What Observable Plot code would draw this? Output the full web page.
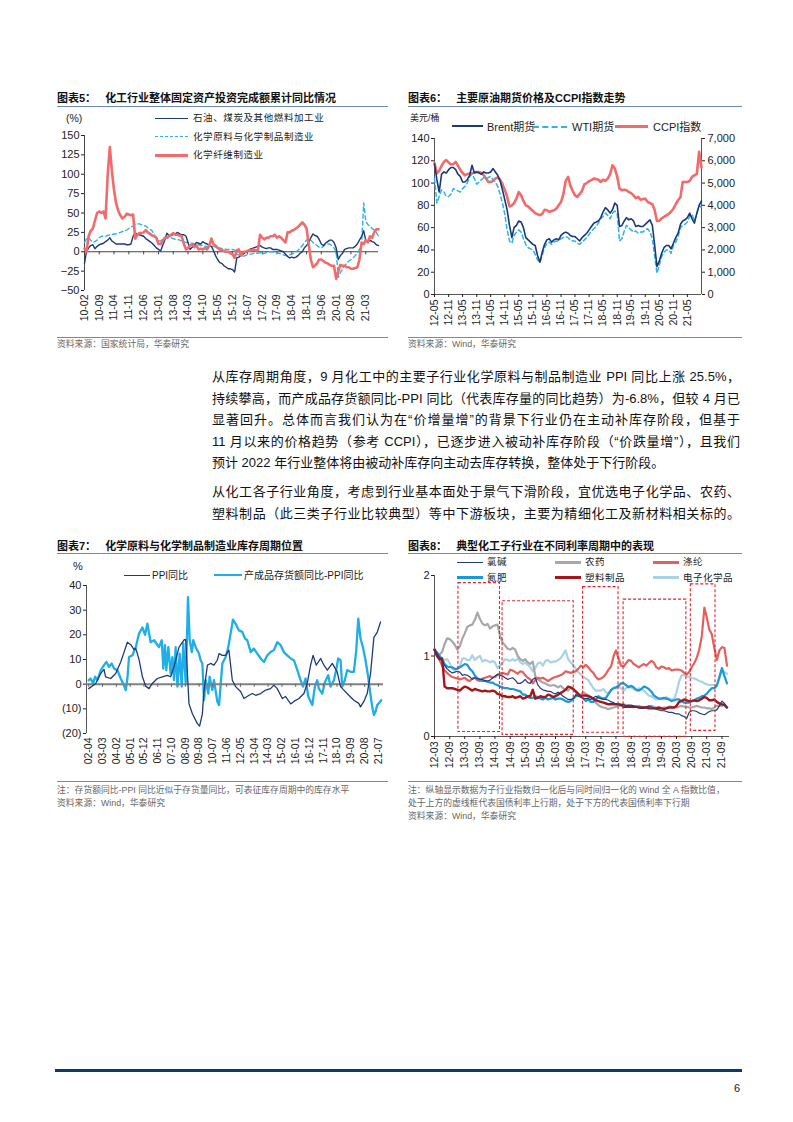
<!DOCTYPE html>
<html><head><meta charset="utf-8">
<script src="https://cdn.jsdelivr.net/npm/d3@7"></script>
<script src="https://cdn.jsdelivr.net/npm/@observablehq/plot@0.6"></script>
<style>
body{margin:0;background:#fff;}
#page{position:relative;width:793px;height:1122px;background:#fff;font-family:"Liberation Sans","Noto Sans CJK SC",sans-serif;color:#222;overflow:hidden}
.abs{position:absolute;white-space:nowrap;line-height:14px}
.title{font-size:11px;font-weight:bold;color:#111}
.hr{position:absolute;height:0;border-top:1px solid #6b8bb8}
.src{font-size:8.8px;color:#666;line-height:13px}
.leg{font-size:9.5px;color:#222}
.ln{position:absolute;height:0}
.para{position:absolute;left:212px;width:528px;font-size:13px;line-height:18px;text-align:justify;text-align-last:justify;color:#111}
.para.last{text-align-last:left}
</style></head>
<body><div id="page"></div>
<script>
// ---------- 图表5 data (monthly, 2010-02 .. 2021-09) ----------
const start5 = "10-02", end5 = "21-09";
const ticks5 = ["10-02","10-09","11-04","11-11","12-06","13-01","13-08","14-03","14-10","15-05","15-12","16-07","17-02","17-09","18-04","18-11","19-06","20-01","20-08","21-03"];
const petro5 = [-15,0,5,8,9,4,7,9,10,11,13,
 15,18,14,12,10,10,10,10,10,9,9,10,
 20,25,22,22,21,20,17,15,13,11,8,5,
 3,1,8,15,24,21,21,22,23,25,23,22,
 22,20,12,3,6,8,12,11,10,13,11,10,
 8,7,2,-5,-10,-14,-15,-18,-20,-22,-22,-23,
 -26,-8,-7,-5,-3,-1,0,3,4,5,6,7,
 8,6,5,4,5,5,3,3,3,2,1,0,
 -3,-6,-8,-7,-8,-7,-5,-2,0,5,8,12,
 18,23,21,20,16,10,8,11,13,15,15,12,
 5,-10,-5,-2,3,4,5,5,5,7,10,15,
 20,27,15,12,15,13,12,9,8];
const chem5 = [12,17,18,15,12,13,15,18,20,20,20,
 21,22,22,23,23,24,25,26,27,28,30,32,
 33,35,36,36,35,34,33,31,29,27,22,18,
 14,14,16,18,18,18,18,17,16,16,15,14,
 13,12,12,11,11,10,10,9,8,8,7,7,
 6,7,7,6,5,5,4,4,3,3,3,3,
 2,-3,-4,-5,-6,-5,-4,-3,-3,-2,-2,-2,
 -1,-3,-2,-1,0,0,0,-1,-2,-2,-3,-4,
 -5,-5,-4,-3,-2,0,2,5,8,12,15,17,
 15,12,10,8,6,5,7,9,10,10,8,5,
 0,-33,-27,-22,-18,-15,-12,-10,-8,-5,-2,3,
 10,63,40,35,33,30,28,25,20];
const fiber5 = [4,0,20,27,30,40,50,52,50,52,43,
 100,135,105,80,63,53,47,43,45,49,48,47,
 48,17,22,24,24,25,28,25,23,21,20,18,
 10,10,14,18,18,20,22,24,22,22,21,20,
 10,3,5,8,10,6,8,3,4,3,5,3,
 8,17,10,8,5,3,2,1,0,0,-2,-3,
 -8,2,3,-5,0,0,1,2,2,3,2,2,
 22,18,16,18,18,20,20,22,18,20,18,15,
 12,25,25,27,28,30,32,35,38,35,30,10,
 -10,-20,-18,-15,-10,-10,-12,-14,-15,-17,-18,-18,
 -35,-25,-17,-18,-18,-20,-20,-22,-22,-21,-20,-10,
 12,10,15,12,20,18,25,29,29];

// ---------- 图表6 data (monthly, 2012-05 .. 2021-11) ----------
const start6 = "12-05", end6 = "21-11";
const ticks6 = ["12-05","12-11","13-05","13-11","14-05","14-11","15-05","15-11","16-05","16-11","17-05","17-11","18-05","18-11","19-05","19-11","20-05","20-11","21-05"];
const brent6 = [117,103,92,108,110,109,112,114,
 114,112,108,106,101,101,103,107,116,109,110,109,
 108,110,109,109,110,113,110,107,102,94,85,76,
 62,51,60,62,66,65,60,51,49,47,45,44,
 35,29,38,45,49,50,47,49,50,49,53,55,
 56,55,53,52,52,50,48,51,53,55,58,61,
 64,65,66,69,74,78,76,73,76,82,80,61,
 62,66,69,67,68,66,61,62,61,61,63,65,
 67,62,45,25,30,37,42,44,44,41,46,51,
 55,63,66,67,69,73,68,64,73,80,84];
const wti6 = [104,82,88,94,92,88,88,90,
 95,94,93,92,95,97,100,106,108,104,99,101,
 103,105,104,105,106,103,101,97,90,82,72,58,
 48,46,53,56,58,56,50,45,42,41,40,36,
 31,29,35,42,46,47,45,47,48,48,50,51,
 52,51,49,48,48,46,45,47,49,51,54,57,
 59,61,64,68,70,73,71,68,73,75,73,48,
 50,57,62,60,58,56,57,55,56,56,58,59,
 56,50,35,19,26,34,38,40,40,37,44,47,
 52,60,62,63,65,70,72,66,72,80,78];
const ccpi6 = [5900,5430,5550,5780,5950,6030,5920,5830,
 5850,5950,5780,5600,5450,5350,5400,5430,5430,5480,5500,5500,
 5450,5350,5200,5050,5050,5100,5200,5260,5150,4950,4700,4400,
 3950,4000,4100,4300,4600,4450,4200,4000,3950,3850,3750,3650,
 3600,3560,3620,3800,3780,3700,3750,3780,3850,4000,4150,4500,
 5100,5280,4900,4650,4450,4380,4500,4650,4950,5000,5080,5130,
 5200,5180,5150,5050,5150,5100,5200,5400,5800,5650,5300,4750,
 4680,4700,4680,4600,4550,4450,4320,4380,4250,4280,4300,4160,
 4100,4050,3800,3300,3300,3420,3480,3550,3620,3710,3850,4050,
 4230,4380,5050,5050,5050,5100,5280,5350,5400,6400,5700];
const oilMax6 = 140, ccpiMax6 = 7000;

// ---------- 图表7 data ----------
const ticks7 = ["02-04","03-03","04-02","05-01","05-12","06-11","07-10","08-09","09-08","10-07","11-06","12-05","13-04","14-03","15-02","16-01","16-12","17-11","18-10","19-09","20-08","21-07"];
const ppiDates7 = ["2002-04-01","2002-09-18","2003-01-17","2003-04-07","2003-05-16","2003-09-16","2004-01-16","2004-05-16","2004-08-06","2004-10-25","2005-01-16","2005-04-04","2005-05-16","2005-08-04","2005-10-25","2006-01-13","2006-04-04","2006-06-22","2006-10-22","2007-02-22","2007-06-22","2007-09-10","2007-12-01","2008-04-01","2008-08-01","2008-09-10","2008-11-28","2009-02-19","2009-06-19","2009-08-13","2009-10-19","2009-11-28","2010-02-19","2010-05-07","2010-07-28","2010-10-16","2010-11-28","2011-02-16","2011-05-07","2011-07-25","2011-10-16","2012-01-04","2012-05-04","2012-07-25","2012-11-25","2013-02-13","2013-05-04","2013-09-04","2014-01-01","2014-05-01","2014-07-22","2014-10-10","2015-02-10","2015-05-01","2015-09-01","2015-11-19","2016-03-19","2016-07-19","2016-10-07","2016-12-28","2017-02-25","2017-05-13","2017-08-28","2017-11-16","2018-02-07","2018-06-07","2018-10-04","2018-12-25","2019-03-16","2019-07-13","2019-11-13","2020-03-13","2020-04-22","2020-07-13","2020-10-01","2020-12-22","2021-03-13","2021-06-01","2021-08-22"];
const ppi7 = [-1.8,0.3,4.3,6,3,2.3,4.3,9,13,17,16,14,14.5,10,3,-0.8,-1.8,0.3,2.3,3,3.6,3,7,15,18,18,-8,-12,-16,-17,-12,-2.4,7.7,8.4,7.7,9.7,12.4,11.7,11.7,13.8,1.6,-1,-3,-5.8,-4.5,-3.8,-4.5,-3.8,-2.4,-1.8,-0.4,-1.8,-5.8,-5,-8,-7,-5.8,-3.8,0.3,7.7,11.7,7.7,10.4,7.7,5.7,8.4,5,-1,-2.4,-4.5,-6.5,-7.8,-9.2,-7,-3.8,4.3,19,21,25.2];
const invDates7 = ["2002-04-01","2002-05-19","2002-07-16","2002-09-01","2002-10-28","2003-01-19","2003-04-07","2003-06-04","2003-08-07","2003-10-10","2003-12-07","2004-02-25","2004-05-16","2004-07-13","2004-09-16","2004-10-25","2004-12-04","2005-02-25","2005-05-16","2005-08-04","2005-10-25","2005-12-28","2006-02-22","2006-05-13","2006-08-04","2006-09-28","2006-12-01","2007-02-07","2007-03-16","2007-04-25","2007-05-28","2007-07-16","2007-09-10","2007-10-22","2007-12-01","2008-01-10","2008-02-22","2008-04-16","2008-06-04","2008-07-13","2008-09-10","2008-10-13","2008-11-04","2008-12-16","2009-02-04","2009-03-13","2009-05-10","2009-07-28","2009-09-07","2009-10-19","2009-11-28","2010-01-07","2010-03-13","2010-04-13","2010-06-16","2010-07-28","2010-10-16","2010-11-28","2011-02-16","2011-05-07","2011-07-10","2011-09-04","2011-11-01","2012-01-22","2012-03-25","2012-06-13","2012-08-19","2012-10-13","2013-01-04","2013-03-22","2013-06-13","2013-09-04","2013-11-22","2014-02-13","2014-05-01","2014-07-22","2014-10-10","2015-01-01","2015-03-19","2015-06-10","2015-09-01","2015-11-19","2016-02-10","2016-04-28","2016-06-25","2016-08-28","2016-11-01","2017-02-07","2017-04-10","2017-06-07","2017-07-16","2017-10-07","2017-12-10","2018-03-01","2018-04-25","2018-07-16","2018-09-10","2018-10-28","2018-12-25","2019-02-04","2019-04-07","2019-06-04","2019-08-25","2019-11-13","2020-01-10","2020-02-28","2020-04-22","2020-06-19","2020-08-22","2020-10-25","2020-12-22","2021-02-01","2021-03-13","2021-04-22","2021-06-01","2021-07-10","2021-09-07"];
const inv7 = [1.6,2.3,0.3,3,1.6,5.7,7.7,9,7,8.4,6.3,5.7,2.3,0.3,-2.4,2.3,11,11.7,15,20.5,23,20,24.5,17,17.8,16.5,15,17.8,6.3,15.8,5.7,15,4.3,11,1.6,15,-1,12.4,-1,16.5,0.3,20.5,35.3,17.8,13,17.8,15,12.4,9.7,8.4,-6.5,1.6,-3.8,3,-2.4,1.6,-7,-8.5,8.4,11,15,20.5,26.2,23.9,21.8,21.2,18.5,17.8,13,14.4,12.4,10.4,9,11.7,13,13.8,17,15.8,13,11.7,10.4,9.7,5.7,1.6,-1,2.3,-5,-8.5,-1,1.6,-1.8,-3.8,0.9,3.6,-1,1.6,5.7,10.4,9.7,-1,1.6,5.7,5,5,13.8,26.6,18.5,15,9.7,3,-4.5,-9.2,-12.5,-11.2,-8.5,-7.8,-6.5];

// ---------- 图表8 data (monthly, 2012-03 .. 2021-11) ----------
const start8 = "12-03", end8 = "21-11";
const ticks8 = ["12-03","12-09","13-03","13-09","14-03","14-09","15-03","15-09","16-03","16-09","17-03","17-09","18-03","18-09","19-03","19-09","20-03","20-09","21-03","21-09"];
const lvjian8 = [1.08,1.03,0.98,0.94,0.88,0.84,0.81,0.79,0.80,0.81,
 0.80,0.76,0.77,0.76,0.74,0.71,0.73,0.72,0.71,0.71,0.69,0.69,
 0.70,0.73,0.75,0.77,0.76,0.75,0.73,0.71,0.72,0.73,0.70,0.66,
 0.66,0.68,0.71,0.67,0.66,0.71,0.73,0.64,0.60,0.58,0.57,0.56,
 0.56,0.54,0.53,0.55,0.53,0.50,0.48,0.46,0.46,0.47,0.52,0.50,
 0.49,0.47,0.47,0.47,0.46,0.48,0.50,0.48,0.47,0.46,0.46,0.45,
 0.43,0.42,0.40,0.41,0.40,0.40,0.38,0.39,0.39,0.38,0.37,0.36,
 0.35,0.35,0.36,0.38,0.37,0.35,0.34,0.33,0.32,0.32,0.31,0.30,
 0.30,0.29,0.28,0.28,0.26,0.25,0.22,0.30,0.32,0.32,0.31,0.29,
 0.28,0.27,0.29,0.31,0.32,0.32,0.33,0.38,0.44,0.41,0.36];
const nongyao8 = [1.08,1.03,1.02,1.05,1.15,1.22,1.21,1.18,1.14,1.08,
 1.12,1.22,1.28,1.36,1.38,1.39,1.45,1.54,1.46,1.40,1.38,1.40,
 1.34,1.37,1.38,1.39,1.25,1.17,1.13,1.09,1.08,1.10,1.08,1.00,
 0.96,0.94,0.96,0.92,0.90,0.93,0.75,0.71,0.69,0.67,0.66,0.64,
 0.63,0.64,0.63,0.61,0.63,0.60,0.58,0.57,0.61,0.59,0.55,0.51,
 0.52,0.55,0.53,0.51,0.49,0.46,0.42,0.39,0.37,0.36,0.35,0.34,
 0.35,0.36,0.37,0.38,0.39,0.40,0.39,0.38,0.37,0.36,0.37,0.38,
 0.37,0.36,0.37,0.37,0.38,0.37,0.36,0.35,0.35,0.36,0.36,0.37,
 0.37,0.36,0.36,0.37,0.38,0.37,0.37,0.36,0.36,0.37,0.38,0.37,
 0.36,0.36,0.35,0.35,0.34,0.36,0.38,0.38,0.38,0.40,0.36];
const dilun8 = [1.08,1.00,0.95,0.88,0.82,0.79,0.76,0.74,0.73,0.72,
 0.71,0.72,0.73,0.70,0.69,0.72,0.73,0.70,0.69,0.72,0.73,0.74,
 0.75,0.73,0.74,0.77,0.78,0.79,0.78,0.77,0.83,0.82,0.80,0.78,
 0.81,0.80,0.76,0.73,0.71,0.66,0.70,0.73,0.72,0.73,0.71,0.69,
 0.71,0.73,0.74,0.75,0.76,0.78,0.81,0.80,0.79,0.80,0.81,0.84,
 0.88,0.86,0.89,0.86,0.82,0.79,0.74,0.71,0.72,0.74,0.78,0.83,
 0.87,1.00,1.07,0.97,0.88,0.87,0.91,0.95,0.94,0.90,0.88,0.86,
 0.88,0.90,0.88,0.91,0.94,0.92,0.86,0.84,0.87,0.86,0.84,0.85,
 0.82,0.83,0.83,0.83,0.82,0.79,0.77,0.80,0.86,0.91,0.98,1.08,
 1.25,1.60,1.48,1.33,1.27,1.10,0.95,1.07,1.11,1.10,0.88];
const danfei8 = [1.08,1.04,1.00,0.96,0.90,0.87,0.86,0.86,0.84,0.84,
 0.86,0.88,0.90,0.89,0.84,0.81,0.76,0.72,0.71,0.69,0.69,0.68,
 0.67,0.67,0.65,0.64,0.62,0.61,0.60,0.60,0.59,0.59,0.58,0.57,
 0.56,0.52,0.52,0.49,0.48,0.48,0.50,0.49,0.47,0.46,0.48,0.46,
 0.47,0.48,0.46,0.47,0.47,0.46,0.44,0.43,0.44,0.47,0.50,0.52,
 0.50,0.47,0.44,0.46,0.43,0.43,0.46,0.50,0.48,0.47,0.48,0.53,
 0.58,0.60,0.61,0.63,0.66,0.66,0.64,0.61,0.63,0.61,0.58,0.57,
 0.59,0.62,0.61,0.59,0.56,0.51,0.49,0.47,0.47,0.48,0.47,0.46,
 0.44,0.45,0.46,0.46,0.44,0.42,0.42,0.42,0.44,0.45,0.47,0.48,
 0.50,0.51,0.53,0.57,0.60,0.60,0.63,0.74,0.85,0.75,0.66];
const suliao8 = [1.08,1.00,0.96,0.97,0.62,0.60,0.60,0.60,0.59,0.58,
 0.57,0.60,0.62,0.61,0.59,0.57,0.59,0.58,0.57,0.56,0.57,0.56,
 0.56,0.57,0.56,0.53,0.52,0.50,0.50,0.49,0.49,0.50,0.48,0.49,
 0.50,0.47,0.48,0.50,0.50,0.58,0.47,0.48,0.50,0.49,0.49,0.52,
 0.51,0.49,0.50,0.52,0.54,0.56,0.58,0.62,0.61,0.59,0.56,0.53,
 0.50,0.51,0.51,0.50,0.49,0.47,0.45,0.44,0.43,0.42,0.41,0.40,
 0.40,0.40,0.40,0.40,0.39,0.37,0.37,0.37,0.37,0.37,0.37,0.36,
 0.36,0.36,0.36,0.35,0.35,0.35,0.35,0.36,0.35,0.34,0.35,0.36,
 0.36,0.36,0.38,0.43,0.44,0.46,0.45,0.44,0.44,0.45,0.44,0.45,
 0.47,0.49,0.48,0.45,0.45,0.46,0.43,0.41,0.40,0.39,0.36];
const dianzi8 = [1.08,1.04,1.00,0.94,0.95,0.96,0.91,0.84,0.82,0.85,
 0.87,0.97,0.97,0.95,0.95,1.01,0.95,0.98,1.00,0.93,0.95,0.94,
 0.92,0.94,0.92,0.85,0.88,0.92,0.96,0.95,0.94,0.96,0.94,0.97,
 0.92,0.90,0.92,0.89,0.86,0.81,0.85,0.91,0.92,0.88,0.94,0.95,
 0.92,0.93,0.93,0.95,0.97,1.02,1.07,0.96,0.92,0.89,0.84,0.80,
 0.77,0.74,0.72,0.70,0.65,0.60,0.57,0.57,0.57,0.59,0.55,0.53,
 0.57,0.61,0.60,0.62,0.60,0.57,0.60,0.63,0.61,0.59,0.57,0.60,
 0.59,0.57,0.54,0.51,0.50,0.48,0.46,0.47,0.47,0.46,0.49,0.47,
 0.46,0.46,0.55,0.68,0.76,0.76,0.75,0.74,0.73,0.72,0.71,0.69,
 0.68,0.66,0.65,0.64,0.64,0.64,0.64,0.72,0.82,0.80,0.78];
// dashed boxes: rate-upcycle / downcycle periods (dates, normalized values)
const boxStart8 = ["2012-12-15","2014-06-01","2017-01-28","2018-06-01","2020-08-21"];
const boxEnd8   = ["2014-05-01","2016-10-07","2018-04-01","2020-06-28","2021-06-15"];
const boxTop8   = [1.905,1.68,1.855,1.70,1.89];
const boxBot8   = [0.055,0.02,0.046,-0.005,0.07];

// ---------- helpers ----------
const FONT = '"Liberation Sans","Noto Sans CJK SC",Arial,sans-serif';
const page = document.getElementById("page");
const pYM = d3.utcParse("%y-%m");
const pYMD = d3.utcParse("%Y-%m-%d");
const fYM = d3.utcFormat("%y-%m");
const monthRange = (a, b) => d3.utcMonth.range(pYM(a), d3.utcMonth.offset(pYM(b), 1));
const errs = [];
function check(name, arr, n){ if(arr.length !== n) errs.push(name+":"+arr.length+"/"+n); }
function place(el, left, top){ el.style.position="absolute"; el.style.left=left+"px"; el.style.top=top+"px"; page.appendChild(el); }
function text(t, left, cy, cls, extra){ const d=document.createElement("div"); d.className="abs "+(cls||""); d.textContent=t; if(extra) Object.assign(d.style, extra); d.style.left=left+"px"; d.style.top=(cy-7)+"px"; page.appendChild(d); return d; }
function hr(left, top, width){ const d=document.createElement("div"); d.className="hr"; d.style.left=left+"px"; d.style.top=top+"px"; d.style.width=width+"px"; page.appendChild(d); }
function legLine(x1, x2, cy, color, w, dashed){ const d=document.createElement("div"); d.className="ln"; d.style.left=x1+"px"; d.style.width=(x2-x1)+"px"; d.style.top=(cy-w/2)+"px"; d.style.borderTop=w+"px "+(dashed?"dashed":"solid")+" "+color; page.appendChild(d); }
const baseStyle = {background:"transparent", fontFamily:FONT, fontSize:"11px", color:"#222", overflow:"visible"};

// ---------- 图表5 ----------
const m5 = monthRange(start5, end5);
check("petro5", petro5, m5.length); check("chem5", chem5, m5.length); check("fiber5", fiber5, m5.length);
const t5 = ticks5.map(pYM);
const ch5 = Plot.plot({
  width:340, height:225, marginLeft:34, marginRight:12, marginTop:23, marginBottom:47,
  style:baseStyle,
  x:{type:"utc", domain:[pYM(start5), pYM(end5)]},
  y:{domain:[-50,150]},
  marks:[
    Plot.ruleY([0], {stroke:"#444", strokeWidth:1}),
    Plot.ruleX(t5, {x:d=>d, y1:0, y2:-4, stroke:"#444"}),
    Plot.ruleX([pYM(start5)], {y1:-50, y2:150, stroke:"#444"}),
    Plot.axisY({ticks:d3.range(-50,151,25), tickSize:3, tickPadding:2, label:null, fontSize:11}),
    Plot.axisX({ticks:t5, tickFormat:fYM, tickRotate:-90, tickSize:0, tickPadding:4, label:null, fontSize:10.5}),
    Plot.lineY(chem5, {x:(d,i)=>m5[i], y:d=>d, stroke:"#2db3ea", strokeWidth:1.4, strokeDasharray:"4,3"}),
    Plot.lineY(petro5, {x:(d,i)=>m5[i], y:d=>d, stroke:"#1d3a7c", strokeWidth:1.4}),
    Plot.lineY(fiber5, {x:(d,i)=>m5[i], y:d=>d, stroke:"#f26a6a", strokeWidth:2.6})
  ]
});
place(ch5, 50, 112);

// ---------- 图表6 ----------
const m6 = monthRange(start6, end6);
check("brent6", brent6, m6.length); check("wti6", wti6, m6.length); check("ccpi6", ccpi6, m6.length);
const t6 = ticks6.map(pYM);
const ratio6 = ccpiMax6/oilMax6;
const ch6 = Plot.plot({
  width:345, height:225, marginLeft:34, marginRight:44, marginTop:26, marginBottom:43,
  style:baseStyle,
  x:{type:"utc", domain:[pYM(start6), pYM(end6)]},
  y:{domain:[0,oilMax6]},
  marks:[
    Plot.ruleY([0], {stroke:"#555"}),
    Plot.ruleX([pYM(start6)], {y1:0, y2:oilMax6, stroke:"#555"}),
    Plot.ruleX([pYM(end6)], {y1:0, y2:oilMax6, stroke:"#555"}),
    Plot.axisY({ticks:d3.range(0,141,20), tickSize:3, tickPadding:2, label:null, fontSize:11}),
    Plot.axisY({anchor:"right", ticks:d3.range(0,141,20), tickFormat:d=>d3.format(",")(d*ratio6), tickSize:3, tickPadding:3, label:null, fontSize:11}),
    Plot.axisX({ticks:t6, tickFormat:fYM, tickRotate:-90, tickSize:3, tickPadding:2, label:null, fontSize:10.5}),
    Plot.lineY(ccpi6, {x:(d,i)=>m6[i], y:d=>d/ratio6, stroke:"#f26a6a", strokeWidth:2.6}),
    Plot.lineY(wti6, {x:(d,i)=>m6[i], y:d=>d, stroke:"#2db3ea", strokeWidth:1.5, strokeDasharray:"4,3"}),
    Plot.lineY(brent6, {x:(d,i)=>m6[i], y:d=>d, stroke:"#173a7a", strokeWidth:1.6})
  ]
});
place(ch6, 400, 112);

// ---------- 图表7 ----------
check("ppi7", ppi7, ppiDates7.length); check("inv7", inv7, invDates7.length);
const t7 = ticks7.map(pYM);
const ch7 = Plot.plot({
  width:340, height:210, marginLeft:36, marginRight:7, marginTop:25, marginBottom:37,
  style:baseStyle,
  x:{type:"utc", domain:[pYMD("2002-02-06"), pYM("21-11")]},
  y:{domain:[-20,40]},
  marks:[
    Plot.ruleX([pYMD("2002-02-06")], {y1:-20, y2:40, stroke:"#555"}),
    Plot.axisY({ticks:d3.range(-20,41,10), tickFormat:d=>d<0?`(${-d})`:d, tickSize:3, tickPadding:2, label:null, fontSize:11}),
    Plot.axisX({ticks:t7, tickFormat:fYM, tickRotate:-90, tickSize:0, tickPadding:4, label:null, fontSize:10.5}),
    Plot.lineY(inv7, {x:(d,i)=>pYMD(invDates7[i]), y:d=>d, stroke:"#1eaee8", strokeWidth:2.3}),
    Plot.ruleY([0], {stroke:"#808080", strokeWidth:2}),
    Plot.ruleX(t7, {x:d=>d, y1:0, y2:-1.3, stroke:"#666"}),
    Plot.lineY(ppi7, {x:(d,i)=>pYMD(ppiDates7[i]), y:d=>d, stroke:"#1d3a7c", strokeWidth:1.3})
  ]
});
place(ch7, 50, 560);

// ---------- 图表8 ----------
const m8 = monthRange(start8, end8);
[["lvjian8",lvjian8],["nongyao8",nongyao8],["dilun8",dilun8],["danfei8",danfei8],["suliao8",suliao8],["dianzi8",dianzi8]].forEach(([n,a])=>check(n,a,m8.length));
const t8 = ticks8.map(pYM);
const boxes8 = boxStart8.map((s,i)=>({x1:pYMD(s), x2:pYMD(boxEnd8[i]), y1:boxBot8[i], y2:boxTop8[i]}));
const series8 = [
  {v:dianzi8, c:"#a9d2e5", w:2.2},
  {v:nongyao8, c:"#a8a8a8", w:2.2},
  {v:dilun8, c:"#e65f5f", w:2.2},
  {v:danfei8, c:"#1b98d8", w:2.2},
  {v:suliao8, c:"#a5161a", w:2.4},
  {v:lvjian8, c:"#1f3e7c", w:1.2}
];
const ch8 = Plot.plot({
  width:345, height:210, marginLeft:34, marginRight:16, marginTop:15, marginBottom:34,
  style:baseStyle,
  x:{type:"utc", domain:[pYM(start8), pYM("21-12")]},
  y:{domain:[0,2]},
  marks:[
    Plot.ruleY([0], {stroke:"#555"}),
    Plot.ruleX([pYM(start8)], {y1:0, y2:2, stroke:"#555"}),
    Plot.axisY({ticks:[0,1,2], tickFormat:d=>String(d), tickSize:3, tickPadding:2, label:null, fontSize:11}),
    Plot.axisX({ticks:t8, tickFormat:fYM, tickRotate:-90, tickSize:3, tickPadding:2, label:null, fontSize:10.5}),
    ...series8.map(s=>Plot.lineY(s.v, {x:(d,i)=>m8[i], y:d=>d, stroke:s.c, strokeWidth:s.w})),
    Plot.rect(boxes8, {x1:"x1", x2:"x2", y1:"y1", y2:"y2", fill:"none", stroke:"#e0262b", strokeWidth:1.1, strokeDasharray:"3,2"})
  ]
});
place(ch8, 400, 560);

// ---------- titles, legends, notes ----------
function title(num, t, left, cy){ const d=text("", left, cy, "title"); d.innerHTML = `图表${num}：<span style="margin-left:9px">${t}</span>`; }
title(5, "化工行业整体固定资产投资完成额累计同比情况", 57, 98);
title(6, "主要原油期货价格及CCPI指数走势", 408, 98);
title(7, "化学原料与化学制品制造业库存周期位置", 57, 546);
title(8, "典型化工子行业在不同利率周期中的表现", 408, 546);
hr(57, 106, 331); hr(408, 106, 334); hr(57, 553, 331); hr(408, 553, 334);
hr(57, 337, 331); hr(408, 337, 334); hr(57, 781, 331); hr(408, 781, 334);

text("资料来源：国家统计局，华泰研究", 57, 345, "src");
text("资料来源：Wind，华泰研究", 408, 345, "src");
text("注：存货额同比-PPI 同比近似于存货量同比，可表征库存周期中的库存水平", 57, 791, "src");
text("资料来源：Wind，华泰研究", 57, 804, "src");
text("注：纵轴显示数据为子行业指数归一化后与同时间归一化的 Wind 全 A 指数比值，", 408, 791, "src");
text("处于上方的虚线框代表国债利率上行期，处于下方的代表国债利率下行期", 408, 804, "src");
text("资料来源：Wind，华泰研究", 408, 817, "src");

// chart 5 legend
text("(%)", 66, 118, "", {fontSize:"10.5px"});
legLine(155, 188, 118.3, "#1d3a7c", 1.5); text("石油、煤炭及其他燃料加工业", 193, 118.3, "leg", {letterSpacing:"0.6px"});
legLine(155, 188, 136.7, "#2db3ea", 1.5, true); text("化学原料与化学制品制造业", 193, 136.7, "leg", {letterSpacing:"0.6px"});
legLine(155, 188, 155, "#f26a6a", 3); text("化学纤维制造业", 193, 155, "leg", {letterSpacing:"0.6px"});
// chart 6 legend
text("美元/桶", 410, 118, "", {fontSize:"9px"});
legLine(452, 483, 126.7, "#173a7a", 2.5); text("Brent期货", 487, 126.7, "", {fontSize:"11px"});
legLine(533, 567, 126.7, "#2db3ea", 2, true); text("WTI期货", 572, 126.7, "", {fontSize:"11px"});
legLine(615, 648, 126.7, "#f26a6a", 3); text("CCPI指数", 653, 126.7, "", {fontSize:"11px"});
// chart 7 legend
text("%", 73, 566, "", {fontSize:"11px"});
legLine(124, 150, 575.7, "#1d3a7c", 1.5); text("PPI同比", 152, 575.7, "", {fontSize:"10px"});
legLine(214, 242, 575.7, "#1eaee8", 2.5); text("产成品存货额同比-PPI同比", 244, 575.7, "", {fontSize:"10px"});
// chart 8 legend
const leg8 = [["氯碱","#1f3e7c",1.5,457,562.3],["农药","#a8a8a8",3,555,562.3],["涤纶","#e65f5f",3,653,562.3],
              ["氮肥","#1b98d8",3,457,577.7],["塑料制品","#a5161a",3,555,577.7],["电子化学品","#a9d2e5",3,653,577.7]];
leg8.forEach(([n,c,w,x,y])=>{ legLine(x, x+26, y, c, w); text(n, x+30, y, "leg", {letterSpacing:"0.5px"}); });

// ---------- body text ----------
const paraLines = [
  ["从库存周期角度，9 月化工中的主要子行业化学原料与制品制造业 PPI 同比上涨 25.5%，", 377, false],
  ["持续攀高，而产成品存货额同比-PPI 同比（代表库存量的同比趋势）为-6.8%，但较 4 月已", 398.5, false],
  ["显著回升。总体而言我们认为在“价增量增”的背景下行业仍在主动补库存阶段，但基于", 420, false],
  ["11 月以来的价格趋势（参考 CCPI），已逐步进入被动补库存阶段（“价跌量增”），且我们", 441.5, false],
  ["预计 2022 年行业整体将由被动补库存向主动去库存转换，整体处于下行阶段。", 463, true],
  ["从化工各子行业角度，考虑到行业基本面处于景气下滑阶段，宜优选电子化学品、农药、", 492, false],
  ["塑料制品（此三类子行业比较典型）等中下游板块，主要为精细化工及新材料相关标的。", 513.5, false]
];
paraLines.forEach(([t, cy, last])=>{ const d=document.createElement("div"); d.className="para"+(last?" last":""); d.textContent=t; d.style.top=(cy-9)+"px"; page.appendChild(d); });

// footer
const bar=document.createElement("div"); Object.assign(bar.style,{position:"absolute",left:"55px",top:"1069px",width:"687px",height:"3px",background:"#0b3a6e"}); page.appendChild(bar);
text("6", 734, 1088, "", {fontSize:"11px"});

if(errs.length) text("LEN ERR "+errs.join(" "), 10, 10, "", {color:"red", fontSize:"12px"});
</script>
</body></html>
